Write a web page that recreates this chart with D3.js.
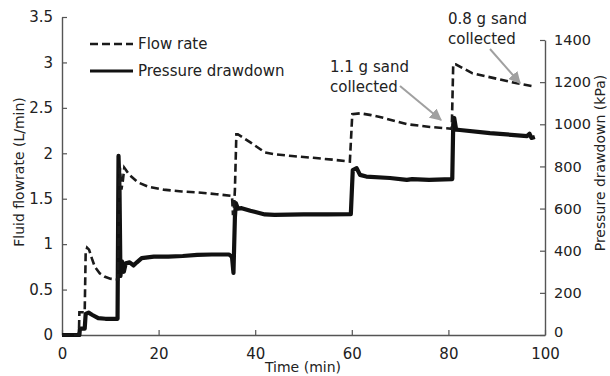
<!DOCTYPE html>
<html><head><meta charset="utf-8">
<script src="https://cdn.jsdelivr.net/npm/d3@7"></script>
<style>
html,body{margin:0;padding:0;background:#fff;}
text{font-family:"DejaVu Sans",Verdana,sans-serif;fill:#222;}
</style></head>
<body><svg id="c" width="610" height="376"></svg>
<script>
// ---- data ----
const flowTime = [0,3.5,3.6,4.7,4.9,5.2,5.6,6.2,6.8,7.8,8.9,10,11.6,11.8,12.0,12.3,12.6,12.9,14,15.7,18,21,24.8,28,32,35.2,35.4,35.6,35.8,36.1,36.4,39,42,44,47.6,52,56,59.6,60.1,61.7,64,66.5,71.4,76.2,80.7,81.0,81.5,85,89.2,94.2,97.3];
const flowRate = [0,0,0.25,0.25,0.9,0.96,0.94,0.84,0.75,0.68,0.64,0.62,0.61,1.4,1.84,1.6,1.7,1.84,1.76,1.68,1.63,1.60,1.58,1.57,1.55,1.53,1.32,1.40,1.6,2.21,2.21,2.12,2.01,1.99,1.97,1.95,1.93,1.91,2.43,2.44,2.42,2.39,2.32,2.29,2.27,2.98,2.98,2.88,2.83,2.77,2.74];
const presTime = [0,3.6,3.7,4.7,4.9,5.5,6.3,7.5,9,11.5,11.7,11.9,12.1,12.4,12.8,13.2,14,14.8,15.5,16.5,19,22,25,28,31,34.6,35.2,35.5,35.8,36.0,36.4,37.2,39,42,44,50,55,59.8,60.2,61,61.7,63,67.9,71.4,72.5,76,80.8,81.0,81.2,81.6,82.4,88.6,93,96.3,96.8,97.2,97.9];
const pressure = [0,0,30,30,100,106,95,80,77,77,850,700,280,350,300,340,345,330,345,365,372,372,375,380,382,382,370,295,560,626,600,602,590,572,570,572,572,574,783,792,760,752,745,736,740,736,740,1000,1030,975,973,958,950,944,955,935,940];
const xTicks = [0,20,40,60,80,100];
const leftTicks = [0,0.5,1,1.5,2,2.5,3,3.5];
const rightTicks = [0,200,400,600,800,1000,1200,1400];

const svg = d3.select("#c");
const x = d3.scaleLinear().domain([0,100]).range([62,545]);
const yL = d3.scaleLinear().domain([0,3.5]).range([335,17]);
const yR = d3.scaleLinear().domain([0,1400]).range([335,40]);
const axisCol = "#555";

// axes
const gx = svg.append("g").attr("transform","translate(0,335)")
  .call(d3.axisBottom(x).tickValues(xTicks).tickFormat(d=>String(d)).tickSizeInner(-5).tickSizeOuter(0).tickPadding(10));
const gl = svg.append("g").attr("transform","translate(62,0)")
  .call(d3.axisLeft(yL).tickValues(leftTicks).tickFormat(d=>String(d)).tickSizeInner(-5).tickSizeOuter(0).tickPadding(9));
const gr = svg.append("g").attr("transform","translate(545,0)")
  .call(d3.axisRight(yR).tickValues(rightTicks).tickFormat(d=>String(d)).tickSizeInner(-5).tickSizeOuter(0).tickPadding(9));
[gx,gl,gr].forEach(g=>{
  g.selectAll("path.domain").attr("stroke",axisCol).attr("stroke-width",1.4);
  g.selectAll(".tick line").attr("stroke",axisCol).attr("stroke-width",1.2);
  g.selectAll(".tick text").attr("font-size",15).attr("fill","#222").style("font-family","'DejaVu Sans',Verdana,sans-serif");
});
gr.selectAll(".tick text").attr("font-size",14.5);
gx.selectAll(".tick text").attr("dy","0.9em");
gr.selectAll(".tick").filter(d=>d===0).select("text").attr("dy","0.1em");

// axis titles
svg.append("text").attr("x",303).attr("y",372).attr("text-anchor","middle").attr("font-size",14).text("Time (min)");
svg.append("text").attr("transform","translate(24,172) rotate(-90)").attr("text-anchor","middle").attr("font-size",14).text("Fluid flowrate (L/min)");
svg.append("text").attr("transform","translate(605,163) rotate(-90)").attr("text-anchor","middle").attr("font-size",14).text("Pressure drawdown (kPa)");

// lines
const flowData = flowTime.map((t,i)=>[t,flowRate[i]]);
const presData = presTime.map((t,i)=>[t,pressure[i]]);
svg.append("path").datum(presData)
  .attr("d",d3.line().x(d=>x(d[0])).y(d=>yR(d[1])))
  .attr("fill","none").attr("stroke","#111").attr("stroke-width",4.2).attr("stroke-linejoin","round");
svg.append("path").datum(flowData)
  .attr("d",d3.line().x(d=>x(d[0])).y(d=>yL(d[1])))
  .attr("fill","none").attr("stroke","#1a1a1a").attr("stroke-width",2.6).attr("stroke-dasharray","8,4");

// legend
svg.append("line").attr("x1",90).attr("x2",133).attr("y1",44).attr("y2",44).attr("stroke","#1a1a1a").attr("stroke-width",2.6).attr("stroke-dasharray","8,4");
svg.append("text").attr("x",138).attr("y",49).attr("font-size",15).text("Flow rate");
svg.append("line").attr("x1",90).attr("x2",133).attr("y1",71).attr("y2",71).attr("stroke","#111").attr("stroke-width",2.8);
svg.append("text").attr("x",138).attr("y",76).attr("font-size",15).text("Pressure drawdown");

// annotations
const defs = svg.append("defs");
defs.append("marker").attr("id","ah").attr("viewBox","0 0 10 10").attr("refX",9).attr("refY",5)
  .attr("markerWidth",6).attr("markerHeight",6).attr("orient","auto")
  .append("path").attr("d","M0,0 L10,5 L0,10 z").attr("fill","#a0a0a0");
svg.append("text").attr("x",330).attr("y",72).attr("font-size",15).text("1.1 g sand");
svg.append("text").attr("x",330).attr("y",92).attr("font-size",15).text("collected");
svg.append("line").attr("x1",400).attr("y1",86).attr("x2",441).attr("y2",120).attr("stroke","#a0a0a0").attr("stroke-width",2).attr("marker-end","url(#ah)");
svg.append("text").attr("x",448).attr("y",24).attr("font-size",15).text("0.8 g sand");
svg.append("text").attr("x",448).attr("y",44).attr("font-size",15).text("collected");
svg.append("line").attr("x1",490).attr("y1",49).attr("x2",520).attr("y2",83).attr("stroke","#a0a0a0").attr("stroke-width",2).attr("marker-end","url(#ah)");
</script></body></html>
